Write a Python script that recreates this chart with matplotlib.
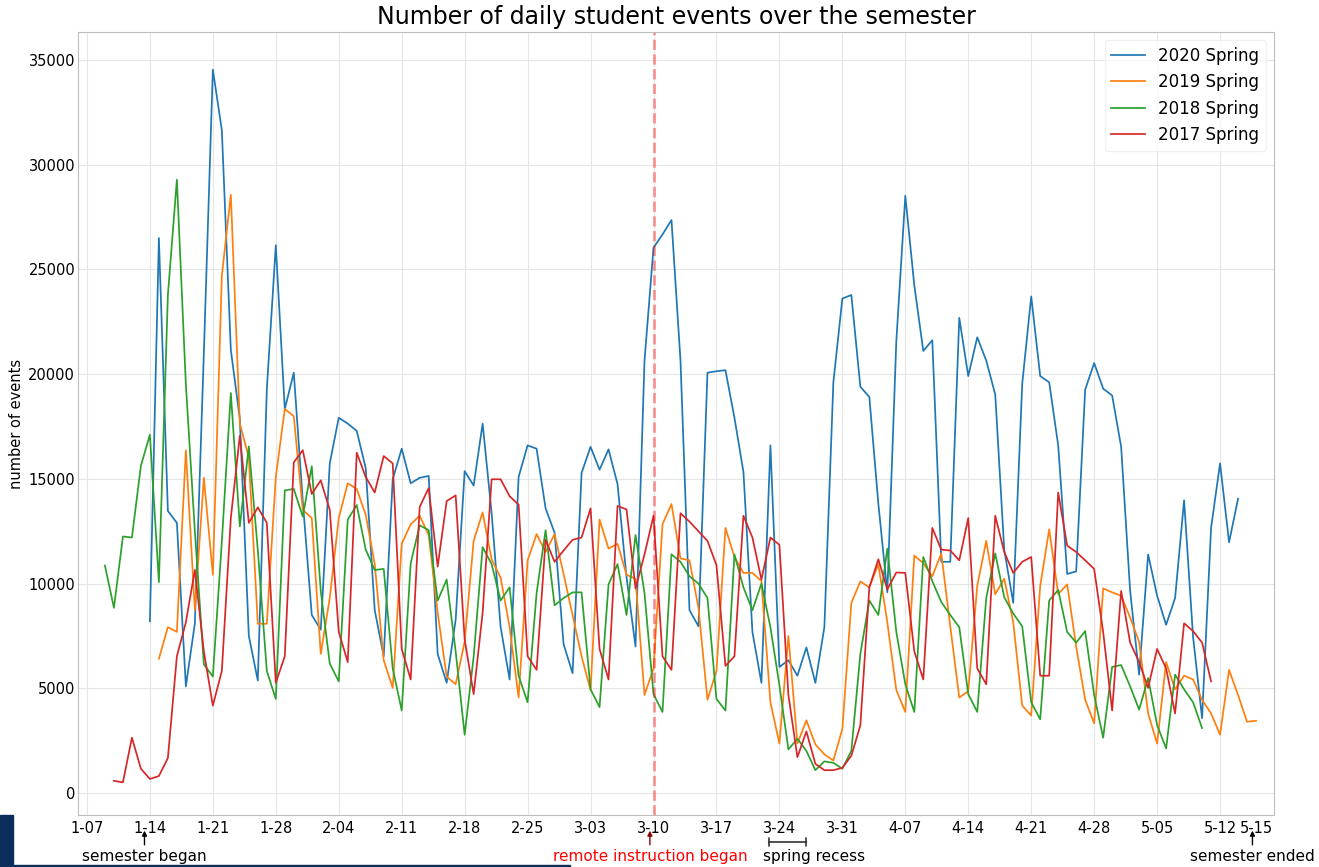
import numpy as np
import matplotlib
matplotlib.use("Agg")
import matplotlib.pyplot as plt
from matplotlib.patches import Rectangle

# day 0 = 1-07, each series starts on its own day
tick_days = [0, 7, 14, 21, 28, 35, 42, 49, 56, 63, 70, 77, 84, 91, 98, 105, 112, 119, 126]
tick_labels = ["1-07", "1-14", "1-21", "1-28", "2-04", "2-11", "2-18", "2-25", "3-03", "3-10",
               "3-17", "3-24", "3-31", "4-07", "4-14", "4-21", "4-28", "5-05", "5-12"]
end_day, end_label = 130, "5-15"

start_2020 = 7
events_2020 = [8200, 26500, 13470, 12900, 5090, 8100, 21000, 34540, 31650, 21160,
               17870, 7500, 5370, 19260, 26160, 18335, 20070, 13940, 8500, 7800,
               15740, 17920, 17640, 17290, 15510, 8730, 6530, 14980, 16440, 14790,
               15050, 15140, 6640, 5260, 8270, 15370, 14680, 17640, 13360, 7920,
               5420, 15090, 16600, 16440, 13590, 12430, 7110, 5720, 15280, 16530,
               15440, 16410, 14750, 10300, 6990, 20650, 26040, 26670, 27360, 20650,
               8730, 7960, 20070, 20140, 20190, 17920, 15330, 7690, 5260, 16600,
               6020, 6340, 5600, 6950, 5260, 7920, 19610, 23610, 23780, 19400,
               18910, 13820, 9580, 21580, 28520, 24240, 21110, 21620, 11040, 11040,
               22690, 19910, 21760, 20650, 19030, 11620, 9080, 19540, 23710, 19910,
               19610, 16600, 10460, 10580, 19260, 20530, 19310, 18980, 16530, 9650,
               5650, 11390, 9420, 8030, 9310, 13980, 7450, 3570, 12660, 15740,
               11970, 14050]

start_2019 = 8
events_2019 = [6410, 7920, 7690, 16370, 8730, 15050, 10420, 24700, 28570, 17640,
               16020, 8080, 8080, 15090, 18340, 17990, 13520, 13130, 6640, 9310,
               13130, 14790, 14520, 13290, 10930, 6340, 5020, 11900, 12830, 13240,
               12320, 8610, 5560, 5190, 7220, 12040, 13400, 11160, 10280, 7920,
               4560, 11110, 12360, 11510, 12360, 10460, 8500, 6530, 4910, 13060,
               11670, 11900, 10420, 10230, 4680, 5950, 12830, 13800, 11200, 11110,
               8840, 4450, 5830, 12660, 11270, 10510, 10510, 10120, 4330, 2360,
               7500, 2360, 3470, 2320, 1850, 1550, 3060, 9080, 10100, 9820,
               10930, 8150, 4910, 3870, 11340, 10970, 10350, 11440, 7960, 4560,
               4860, 9890, 12040, 9490, 10230, 8150, 4170, 3700, 9890, 12590,
               9500, 9960, 6990, 4450, 3330, 9770, 9580, 9420, 8380, 7220,
               3800, 2360, 6250, 4950, 5600, 5420, 4450, 3800, 2780, 5880,
               4680, 3400, 3450]

start_2018 = 2
events_2018 = [10860, 8840, 12250, 12200, 15630, 17110, 10070, 23780, 29290, 19500,
               12500, 6140, 5560, 12000, 19100, 12730, 16550, 11600, 5830, 4490,
               14450, 14520, 13200, 15600, 9650, 6180, 5330, 13060, 13750, 11620,
               10650, 10700, 5950, 3940, 10970, 12780, 12550, 9190, 10190, 6760,
               2780, 6500, 11740, 10930, 9190, 9820, 5600, 4330, 9540, 12550,
               8960, 9310, 9580, 9580, 4950, 4100, 9960, 10930, 8500, 12320,
               9540, 4720, 3870, 11400, 11040, 10350, 10000, 9310, 4490, 3940,
               11390, 9820, 8730, 10000, 7920, 5140, 2080, 2590, 2010, 1090,
               1510, 1440, 1160, 2010, 6640, 9190, 8500, 11670, 7690, 5190,
               3870, 11270, 10120, 9120, 8500, 7920, 4720, 3870, 9310, 11440,
               9350, 8570, 7960, 4330, 3520, 9190, 9700, 7690, 7180, 7730,
               4680, 2640, 6020, 6110, 5090, 3980, 5490, 3240, 2130, 5650,
               4950, 4330, 3100]

start_2017 = 3
events_2017 = [580, 510, 2640, 1160, 670, 810, 1670, 6530, 8150, 10650,
               6760, 4170, 5830, 13130, 17060, 12900, 13640, 12900, 5260, 6530,
               15790, 16370, 14280, 14930, 13520, 7690, 6250, 16250, 15090, 14350,
               16090, 15740, 6880, 5420, 13660, 14560, 10810, 13940, 14210, 7340,
               4720, 8610, 14980, 14980, 14170, 13770, 6530, 5880, 12090, 11040,
               11580, 12090, 12200, 13590, 6880, 5420, 13710, 13540, 9770, 11390,
               13240, 6530, 5880, 13360, 12960, 12500, 12040, 10880, 6070, 6530,
               13240, 12200, 10190, 12200, 11850, 4680, 1710, 2940, 1390, 1090,
               1090, 1200, 1780, 3230, 9820, 11160, 9720, 10530, 10510, 6760,
               5420, 12660, 11620, 11580, 11110, 13130, 5950, 5190, 13240, 11510,
               10510, 11040, 11270, 5600, 5600, 14350, 11810, 11510, 11110, 10700,
               7690, 3940, 9650, 7180, 6250, 5020, 6880, 5950, 3800, 8100,
               7730, 7180, 5330]

series = [("2020 Spring", start_2020, events_2020, "tab:blue"),
          ("2019 Spring", start_2019, events_2019, "tab:orange"),
          ("2018 Spring", start_2018, events_2018, "tab:green"),
          ("2017 Spring", start_2017, events_2017, "tab:red")]

remote_day = 63
recess_days = (75.8, 80.0)

fig = plt.figure(figsize=(13.19, 8.67), dpi=100)
ax = fig.add_axes([0.0591, 0.0600, 0.9068, 0.9031])

for name, start, vals, col in series:
    days = np.arange(len(vals)) + start
    ax.plot(days, vals, color=col, lw=1.25, label=name)

ax.axvline(remote_day, color="red", alpha=0.4, lw=2, ls="--")

ax.set_xlim(-1, 132)
ax.set_ylim(-1050, 36340)
ax.set_xticks(tick_days)
ax.set_xticklabels(tick_labels)
# last date has a label but no grid line
ax.set_xticks([end_day], [end_label], minor=True)
ax.set_yticks(np.arange(0, 35001, 5000))
ax.tick_params(which="both", length=0, labelsize=10.5)
ax.tick_params(axis="y", pad=2)
ax.tick_params(axis="x", which="both", pad=4)
ax.grid(True, which="major", color="#e6e6e6", lw=0.8)
ax.set_axisbelow(True)
for s in ax.spines.values():
    s.set_color("#bdbdbd")

ax.set_title("Number of daily student events over the semester", fontsize=17, pad=6)
ax.set_ylabel("number of events", fontsize=10.5, labelpad=3)
ax.legend(loc="upper right", fontsize=12, framealpha=0.8, edgecolor="#eeeeee")

# notes under the date axis
tr = ax.get_xaxis_transform()
ax.annotate("semester began", xy=(6.4, -0.020), xycoords=tr, xytext=(6.4, -0.053), textcoords=tr,
            ha="center", va="center", fontsize=11,
            arrowprops=dict(arrowstyle="-|>", color="black", lw=1, mutation_scale=7, shrinkA=1, shrinkB=0))
ax.annotate("remote instruction began", xy=(62.6, -0.020), xycoords=tr, xytext=(62.6, -0.053), textcoords=tr,
            ha="center", va="center", fontsize=11, color="red",
            arrowprops=dict(arrowstyle="-|>", color="darkred", lw=1, mutation_scale=7, shrinkA=1, shrinkB=0))
ax.annotate("", xy=(recess_days[0], -0.0345), xycoords=tr, xytext=(recess_days[1], -0.0345), textcoords=tr,
            arrowprops=dict(arrowstyle="|-|, widthA=0.3, widthB=0.3", color="#333333", lw=1.2, shrinkA=0, shrinkB=0))
ax.text(75.2, -0.053, "spring recess", transform=tr, ha="left", va="center", fontsize=11)
ax.annotate("semester ended", xy=(129.6, -0.020), xycoords=tr, xytext=(129.6, -0.053), textcoords=tr,
            ha="center", va="center", fontsize=11,
            arrowprops=dict(arrowstyle="-|>", color="black", lw=1, mutation_scale=7, shrinkA=1, shrinkB=0))

# bits of the slide frame visible at the bottom left
fig.patches.append(Rectangle((0, 0), 13 / 1319, 52 / 867, transform=fig.transFigure, color="#0b2f5c"))
fig.patches.append(Rectangle((0, 0), 570 / 1319, 2.5 / 867, transform=fig.transFigure, color="#0b2f5c"))

fig.savefig("out.png", dpi=100)
